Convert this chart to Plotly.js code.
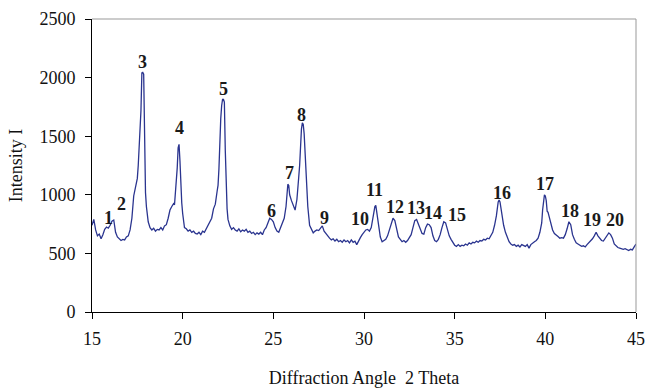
<!DOCTYPE html>
<html>
<head>
<meta charset="utf-8">
<script src="https://cdn.plot.ly/plotly-3.0.1.min.js"></script>
<style>html,body{margin:0;padding:0;background:#fff;}#chart{width:645px;height:388px;}</style>
</head>
<body>
<div id="chart"></div>
<script>
// Diffraction angle (2 theta) samples
const angle = [
15.0,15.1,15.2,15.3,15.4,15.5,15.6,15.7,15.8,15.9,16.0,16.1,16.2,16.3,16.4,16.5,16.6,16.7,16.8,16.9,
17.0,17.1,17.2,17.3,17.4,17.45,17.5,17.55,17.6,17.65,17.7,17.75,17.8,17.85,17.9,17.95,18.0,18.1,18.2,18.3,
18.4,18.5,18.6,18.7,18.8,18.9,19.0,19.1,19.2,19.3,19.4,19.5,19.55,19.6,19.65,19.7,19.75,19.8,19.85,19.9,
19.95,20.0,20.1,20.2,20.3,20.4,20.5,20.6,20.7,20.8,20.9,21.0,21.1,21.2,21.3,21.4,21.5,21.6,21.7,21.8,
21.9,21.95,22.0,22.05,22.1,22.15,22.2,22.25,22.3,22.35,22.4,22.45,22.5,22.6,22.7,22.8,22.9,23.0,23.1,23.2,
23.3,23.4,23.5,23.6,23.7,23.8,23.9,24.0,24.1,24.2,24.3,24.4,24.5,24.6,24.7,24.8,24.9,25.0,25.1,25.2,
25.3,25.4,25.5,25.6,25.7,25.75,25.8,25.85,25.9,26.0,26.1,26.2,26.3,26.35,26.4,26.45,26.5,26.55,26.6,26.65,
26.7,26.75,26.8,26.85,26.9,27.0,27.1,27.2,27.3,27.4,27.5,27.6,27.7,27.8,27.9,28.0,28.1,28.2,28.3,28.4,
28.5,28.6,28.7,28.8,28.9,29.0,29.1,29.2,29.3,29.4,29.5,29.6,29.7,29.8,29.9,30.0,30.1,30.2,30.3,30.4,
30.5,30.6,30.65,30.7,30.8,30.9,31.0,31.1,31.2,31.3,31.4,31.5,31.6,31.7,31.8,31.9,32.0,32.1,32.2,32.3,
32.4,32.5,32.6,32.7,32.8,32.9,33.0,33.1,33.2,33.3,33.4,33.5,33.6,33.7,33.8,33.9,34.0,34.1,34.2,34.3,
34.4,34.5,34.6,34.7,34.8,34.9,35.0,35.1,35.2,35.3,35.4,35.5,35.6,35.7,35.8,35.9,36.0,36.1,36.2,36.3,
36.4,36.5,36.6,36.7,36.8,36.9,37.0,37.1,37.2,37.3,37.4,37.45,37.5,37.6,37.7,37.8,37.9,38.0,38.1,38.2,
38.3,38.4,38.5,38.6,38.7,38.8,38.9,39.0,39.1,39.2,39.3,39.4,39.5,39.6,39.7,39.8,39.85,39.9,39.95,40.0,
40.05,40.1,40.15,40.2,40.3,40.4,40.5,40.6,40.7,40.8,40.9,41.0,41.1,41.2,41.3,41.4,41.5,41.6,41.7,41.8,
41.9,42.0,42.1,42.2,42.3,42.4,42.5,42.6,42.7,42.8,42.9,43.0,43.1,43.2,43.3,43.4,43.5,43.6,43.7,43.8,
43.9,44.0,44.1,44.2,44.3,44.4,44.5,44.6,44.7,44.8,44.9,45.0
];
// Intensity I
const intensity = [
740,790,700,650,665,625,660,705,725,715,740,775,785,680,640,625,610,620,615,640,
650,700,800,990,1060,1090,1140,1250,1410,1560,1720,2040,2045,2030,1400,1020,900,770,720,700,
715,690,705,700,720,700,735,745,800,870,900,925,915,1010,1130,1230,1400,1430,1290,1060,
930,840,720,710,690,700,680,690,670,665,680,660,690,680,710,730,760,800,880,920,
1030,1080,1220,1480,1650,1760,1815,1815,1790,1380,1050,880,790,735,705,720,700,690,710,685,
700,690,705,680,690,670,680,660,675,665,680,660,700,720,760,800,790,770,720,690,
680,715,760,800,900,1020,1090,1080,1000,950,910,870,960,1030,1150,1250,1420,1560,1615,1600,
1520,1380,1200,1040,900,740,700,675,690,700,695,720,735,690,670,640,630,615,625,605,
620,600,610,595,615,600,610,590,615,595,605,575,610,635,660,680,700,705,690,720,
830,900,910,860,720,640,600,610,620,650,700,760,800,780,700,640,620,600,610,595,
610,630,660,720,780,790,750,700,670,665,720,750,745,720,650,610,600,620,660,720,
770,760,700,650,620,590,570,560,575,560,570,565,580,570,590,580,595,590,605,595,
610,605,620,615,630,625,650,680,740,820,940,955,940,830,740,680,640,600,580,570,
575,560,570,555,575,565,560,575,545,575,590,600,610,630,680,760,870,960,1000,990,
950,860,850,820,760,700,670,660,645,630,635,630,660,710,770,745,660,620,590,580,
570,560,565,555,575,590,610,625,650,680,650,630,610,605,625,650,675,660,630,580,
560,550,545,540,535,540,530,525,535,530,555,580
];
// Peak numbering labels and their placement (data coordinates)
const peakLabels = ["1","2","3","4","5","6","7","8","9","10","11","12","13","14","15","16","17","18","19","20"];
const labelAngle = [15.9,16.6,17.81,19.83,22.26,24.89,25.9,26.54,27.81,29.76,30.59,31.73,32.89,33.81,35.13,37.61,40.0,41.38,42.58,43.86];
const labelIntensity = [800,923,2136,1569,1901,866,1190,1682,801,795,1037,895,887,844,830,1014,1091,866,781,781];
const xTicks = [15,20,25,30,35,40,45];
const yTicks = [0,500,1000,1500,2000,2500];

const serif = "Liberation Serif, Times New Roman, serif";

const trace = {
  x: angle, y: intensity, type: "scatter", mode: "lines",
  line: {color: "#2a348f", width: 1.3}, hoverinfo: "skip"
};

const annotations = peakLabels.map((t, i) => ({
  x: labelAngle[i], y: labelIntensity[i], xref: "x", yref: "y",
  text: "<b>" + t + "</b>", showarrow: false,
  font: {family: serif, size: 18, color: "#1a1a1a"},
  xanchor: "center", yanchor: "middle"
}));

const layout = {
  width: 645, height: 388,
  margin: {l: 92, r: 9, t: 19, b: 76},
  paper_bgcolor: "#fff", plot_bgcolor: "#fff",
  showlegend: false,
  font: {family: serif, size: 18, color: "#111"},
  xaxis: {
    range: [15, 45], tickvals: xTicks, ticktext: xTicks.map(String),
    showgrid: false, zeroline: false, showline: true, linecolor: "#000", linewidth: 1,
    ticks: "outside", ticklen: 6, tickcolor: "#000", ticklabelstandoff: 4,
    tickfont: {family: serif, size: 18, color: "#111"},
    title: {text: "Diffraction Angle  2 Theta", font: {family: serif, size: 18, color: "#111"}, standoff: 26},
    fixedrange: true
  },
  yaxis: {
    range: [0, 2500], tickvals: yTicks, ticktext: yTicks.map(String),
    showgrid: false, zeroline: false, showline: true, linecolor: "#000", linewidth: 1,
    ticks: "outside", ticklen: 6, tickcolor: "#000", ticklabelstandoff: 6,
    tickfont: {family: serif, size: 18, color: "#111"},
    title: {text: "Intensity I", font: {family: serif, size: 18, color: "#111"}, standoff: 12},
    fixedrange: true
  },
  shapes: [
    {type: "line", xref: "paper", yref: "paper", x0: 0, x1: 1, y0: 1, y1: 1, line: {color: "#999", width: 1}},
    {type: "line", xref: "paper", yref: "paper", x0: 1, x1: 1, y0: 0, y1: 1, line: {color: "#999", width: 1}}
  ],
  annotations: annotations
};

Plotly.newPlot("chart", [trace], layout, {displayModeBar: false, staticPlot: true});
</script>
</body>
</html>
